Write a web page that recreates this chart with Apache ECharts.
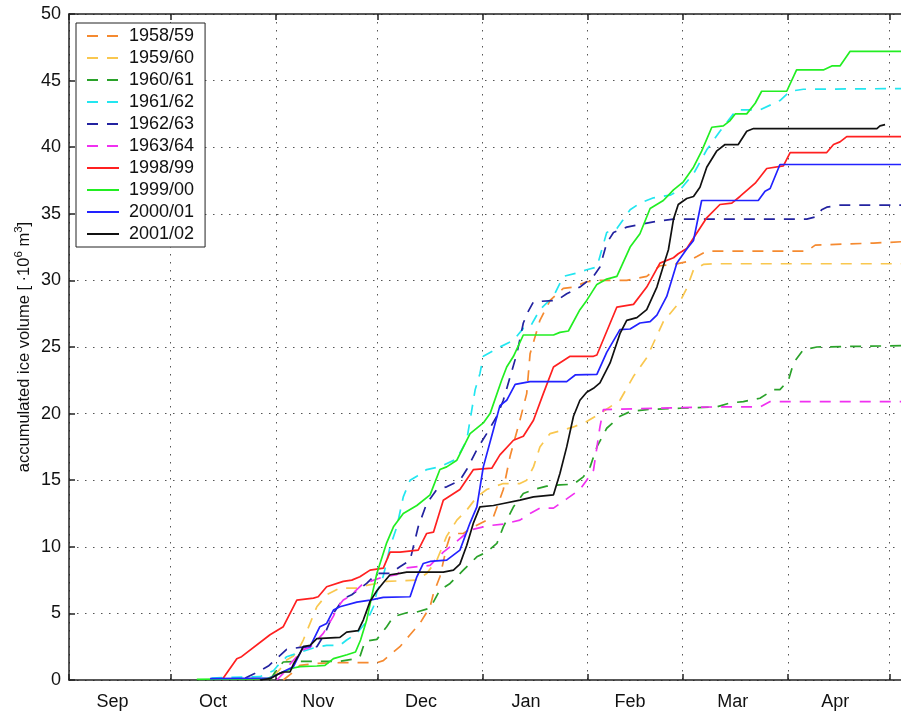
<!DOCTYPE html>
<html>
<head>
<meta charset="utf-8">
<script src="https://cdn.jsdelivr.net/npm/echarts@6/dist/echarts.min.js"></script>
<style>html,body{margin:0;padding:0;background:#fff}#c{width:901px;height:713px}</style>
</head>
<body>
<div id="c"></div>
<script>
// x = days since 1 September, y = accumulated ice volume [10^6 m^3]
const seasons = ['1958/59','1959/60','1960/61','1961/62','1962/63','1963/64','1998/99','1999/00','2000/01','2001/02'];
const monthLabels = ['Sep','Oct','Nov','Dec','Jan','Feb','Mar','Apr'];
const monthStartDays = [0,30,61,91,122,153,181,212,242];
const monthLabelDays = [12.8,42.5,73.5,103.8,134.8,165.5,195.8,226];
const yTicks = [0,5,10,15,20,25,30,35,40,45,50];

const v1958 = [[63.2,0],[66.2,0.6],[68.1,1.1],[73.1,1.25],[79.9,1.3],[90.8,1.3],[92.7,1.45],[94.7,1.9],[97.6,2.5],[100.6,3.4],[103.5,4.25],[106.5,5.5],[107.5,6.5],[109.4,7.75],[111.4,10.0],[112.4,10.8],[114.4,11.0],[116.3,11.0],[119.3,11.5],[125.2,12.25],[128.1,14.3],[130.1,16.8],[133.0,19.5],[135.0,21.5],[136.0,24.5],[138.9,27.0],[141.9,28.5],[145.8,29.4],[148.8,29.5],[152.7,29.9],[156.6,30.0],[164.5,30.0],[170.4,30.3],[174.3,31.1],[178.3,31.2],[182.2,31.4],[185.2,31.8],[188.1,32.2],[217.6,32.2],[220.1,32.65],[237.3,32.8],[245.4,32.9]];
const v1959 = [[60.3,0.3],[62.2,0.8],[64.2,1.5],[66.2,1.8],[68.1,2.5],[69.1,3.0],[71.1,4.25],[73.1,5.5],[76.0,6.4],[79.9,6.9],[84.9,6.9],[87.8,7.1],[90.8,7.25],[93.7,7.4],[102.6,7.5],[105.5,8.0],[108.5,9.0],[111.4,10.8],[114.4,12.0],[117.3,12.75],[120.3,13.75],[123.2,14.3],[125.2,14.5],[128.1,14.75],[133.0,14.75],[135.0,15.0],[137.0,16.0],[138.9,17.5],[141.9,18.5],[144.8,18.7],[148.8,19.0],[152.7,19.4],[156.6,20.0],[162.5,21.0],[166.5,22.8],[170.4,24.2],[175.3,26.9],[180.2,28.4],[182.2,29.4],[184.2,30.8],[187.1,31.2],[190.1,31.25],[245.4,31.25]];
const v1960 = [[59.3,0],[61.3,0.8],[63.2,1.35],[68.1,1.4],[79.9,1.4],[84.5,1.6],[85.8,1.75],[87.3,2.9],[90.8,3.05],[93.7,4.0],[95.7,4.75],[99.6,5.05],[102.6,5.1],[106.5,5.4],[109.4,6.75],[112.4,7.25],[116.3,8.25],[120.3,9.25],[123.2,9.6],[126.2,10.25],[128.1,11.5],[131.1,13.0],[134.0,14.0],[137.0,14.3],[140.9,14.55],[144.8,14.65],[148.8,14.7],[151.7,15.25],[153.7,16.0],[155.7,17.5],[158.6,18.9],[162.5,19.8],[165.5,20.15],[170.4,20.3],[180.2,20.4],[191.0,20.5],[195.0,20.8],[198.9,20.9],[203.8,21.15],[207.8,21.8],[209.7,21.8],[212.2,22.5],[213.7,23.8],[216.6,24.8],[220.6,25.0],[245.4,25.1]];
const v1961 = [[42.0,0.15],[56.3,0.25],[60.3,0.7],[61.3,1.0],[64.2,1.75],[67.2,2.0],[72.1,2.4],[76.0,2.6],[79.9,2.6],[81.9,3.0],[84.9,3.5],[87.8,4.4],[89.8,5.5],[90.8,6.6],[92.7,7.8],[94.7,10.0],[96.7,11.5],[98.6,13.75],[100.6,15.0],[102.6,15.3],[105.5,15.8],[109.4,16.0],[114.4,16.6],[117.3,18.0],[118.3,19.5],[119.8,21.8],[121.2,23.0],[122.2,24.3],[127.1,25.0],[131.1,25.5],[134.0,26.4],[136.0,26.5],[138.9,27.8],[142.9,28.8],[145.8,30.3],[149.8,30.55],[152.7,30.8],[155.7,31.0],[158.6,33.6],[161.6,33.9],[165.5,35.3],[168.4,35.8],[172.4,36.2],[177.3,36.4],[180.2,36.8],[184.2,38.0],[188.1,39.8],[192.0,41.2],[196.9,42.8],[203.8,42.8],[209.7,43.5],[212.7,44.2],[216.6,44.35],[245.4,44.4]];
const v1962 = [[52.0,0.15],[54.9,0.5],[58.8,1.05],[60.8,1.5],[64.2,2.3],[68.1,2.45],[73.1,2.5],[75.5,3.5],[78.0,5.0],[80.9,6.1],[83.4,6.4],[87.8,7.25],[90.8,8.0],[94.7,8.0],[97.6,8.5],[100.6,9.0],[103.0,11.5],[105.5,13.25],[108.5,14.3],[111.4,14.5],[115.3,15.0],[117.3,15.8],[120.3,17.3],[123.2,18.5],[126.2,19.8],[128.1,21.0],[132.1,24.5],[134.0,26.8],[135.5,27.7],[137.0,28.4],[143.9,28.5],[146.8,29.0],[150.7,29.5],[154.7,30.3],[156.6,31.0],[158.6,32.8],[160.6,33.6],[164.5,34.0],[168.4,34.2],[172.4,34.4],[178.3,34.6],[217.6,34.6],[220.6,34.8],[222.0,35.3],[223.5,35.5],[227.4,35.65],[245.4,35.65]];
const v1963 = [[61.3,0],[63.2,0.5],[65.2,1.2],[67.2,1.75],[68.1,2.2],[71.1,2.45],[75.0,3.5],[78.0,4.8],[79.0,5.4],[80.9,6.0],[82.9,6.3],[86.8,7.25],[88.8,7.4],[92.7,7.75],[96.7,7.9],[98.6,8.4],[106.5,8.6],[110.4,9.6],[112.4,10.0],[118.3,11.25],[122.2,11.5],[124.2,11.6],[128.1,11.7],[133.0,12.0],[136.0,12.5],[138.9,12.9],[142.9,12.9],[144.8,13.25],[146.8,13.6],[150.7,14.3],[152.7,15.0],[154.7,15.75],[156.6,19.0],[157.6,20.3],[166.5,20.35],[180.2,20.45],[191.0,20.5],[203.8,20.5],[206.8,20.9],[245.4,20.9]];
const v1998 = [[45.1,0],[49.5,1.6],[50.9,1.75],[59.3,3.4],[63.2,4.0],[67.2,6.0],[72.1,6.15],[73.5,6.25],[76.0,7.0],[80.9,7.4],[83.4,7.5],[85.8,7.75],[88.8,8.25],[92.7,8.4],[94.7,9.6],[97.6,9.6],[103.0,9.75],[105.5,11.0],[107.5,11.1],[110.4,13.5],[115.3,14.3],[119.3,15.8],[124.7,15.9],[127.1,16.9],[131.1,18.0],[134.0,18.3],[137.0,19.5],[139.9,21.5],[142.9,23.5],[147.8,24.3],[154.7,24.3],[155.7,24.4],[161.6,28.0],[166.5,28.2],[170.4,29.5],[174.3,31.3],[178.3,31.7],[179.7,32.0],[182.2,32.4],[188.1,34.7],[192.0,35.7],[195.5,35.8],[197.9,36.3],[202.4,37.3],[205.8,38.4],[210.7,38.6],[212.7,39.6],[223.5,39.6],[225.5,40.2],[227.4,40.4],[229.4,40.8],[245.4,40.8]];
const v1999 = [[37.7,0.05],[58.3,0.1],[61.3,0.4],[62.2,0.5],[66.2,0.9],[68.1,1.0],[73.1,1.05],[75.5,1.1],[78.0,1.6],[82.0,1.9],[84.5,2.1],[86.0,3.0],[87.8,4.5],[89.3,6.3],[90.8,8.0],[93.7,10.3],[95.7,11.5],[98.6,12.5],[102.6,13.1],[106.5,13.9],[109.4,15.8],[111.4,16.0],[114.4,16.5],[118.3,18.5],[122.2,19.3],[124.2,20.0],[127.6,22.5],[129.1,23.5],[131.1,24.3],[134.0,25.9],[142.9,25.9],[144.8,26.1],[147.3,26.2],[150.7,27.8],[152.7,28.5],[155.7,29.7],[158.6,30.1],[161.6,30.3],[165.5,32.5],[168.4,33.5],[171.4,35.4],[175.3,36.0],[178.3,36.8],[181.2,37.4],[184.2,38.5],[186.6,39.7],[189.6,41.5],[193.0,41.6],[195.0,42.0],[196.5,42.5],[199.9,42.5],[202.4,43.3],[204.3,44.2],[211.7,44.2],[214.6,45.8],[222.5,45.8],[225.0,46.1],[227.4,46.1],[230.4,47.2],[245.4,47.2]];
const v2000 = [[41.6,0.1],[59.3,0.15],[62.2,0.5],[66.2,1.0],[69.1,2.5],[71.1,2.5],[74.0,4.0],[76.0,4.25],[78.0,5.25],[79.9,5.5],[84.9,5.85],[88.8,6.0],[92.7,6.2],[100.6,6.25],[102.6,7.75],[104.5,8.75],[106.5,8.9],[111.4,9.0],[115.3,9.75],[118.3,11.8],[120.3,13.0],[122.2,16.0],[125.2,18.8],[127.1,20.6],[129.1,21.0],[131.6,22.2],[136.0,22.4],[146.8,22.4],[149.3,22.9],[155.7,22.95],[158.6,24.6],[162.5,26.3],[165.5,26.35],[168.4,26.8],[171.4,26.9],[173.4,27.4],[176.3,28.8],[179.3,31.3],[182.2,32.35],[184.2,33.0],[186.6,36.0],[203.3,36.0],[205.3,36.7],[206.8,36.9],[209.7,38.7],[245.4,38.7]];
const v2001 = [[56.3,0],[59.3,0.1],[62.2,0.5],[63.2,0.6],[65.2,0.6],[66.2,1.2],[68.1,2.0],[69.1,2.5],[71.1,2.6],[73.1,3.1],[79.9,3.2],[81.9,3.6],[85.3,3.7],[86.8,4.5],[88.8,5.9],[90.8,6.7],[92.7,7.3],[94.7,7.9],[97.6,8.0],[99.6,8.1],[110.4,8.1],[113.4,8.25],[115.3,8.7],[117.3,10.1],[119.3,11.8],[121.2,13.0],[125.2,13.1],[128.1,13.25],[133.0,13.5],[137.0,13.75],[142.9,13.9],[144.8,15.5],[146.8,17.5],[148.8,19.8],[150.7,21.0],[152.7,21.6],[154.7,21.9],[156.6,22.3],[159.6,23.8],[162.5,26.0],[164.5,27.0],[167.5,27.2],[170.4,27.8],[173.4,29.5],[175.8,31.5],[176.8,32.3],[178.3,34.6],[179.7,35.7],[182.2,36.15],[184.2,36.3],[186.1,37.0],[188.1,38.5],[191.0,39.7],[193.5,40.2],[197.4,40.2],[199.9,41.2],[201.9,41.4],[238.3,41.4],[239.2,41.6],[240.7,41.7]];

const seriesValues = [v1958,v1959,v1960,v1961,v1962,v1963,v1998,v1999,v2000,v2001];
const colors = ['#f58a30','#f9c74f','#2aa22a','#22e6f0','#2323a0','#f030f0','#ff2020','#22ee22','#2222ff','#111111'];
const dashed = [true,true,true,true,true,true,false,false,false,false];

const FONT = 'Liberation Sans, Arial, Helvetica, sans-serif';
const chart = echarts.init(document.getElementById('c'), null, {renderer:'canvas'});
const xMax = 245.4;
const dotted = {color:'#555', width:1, type:[1.5,6.5]};

const series = seasons.map((s,i)=>({
  name: s, type:'line', data: seriesValues[i], showSymbol:false, symbol:'none',
  xAxisIndex:0, yAxisIndex:0,
  lineStyle:{color:colors[i], width:1.7, type: dashed[i] ? [11,9] : 'solid'},
  itemStyle:{color:colors[i]}, animation:false, z: 3
}));

chart.setOption({
  animation:false,
  backgroundColor:'#fff',
  grid:{left:69, right:0, top:14, bottom:33, containLabel:false},
  legend:{
    data: seasons, orient:'vertical', left:76, top:23,
    itemWidth:32, itemHeight:14, itemGap:4,
    padding:[4,11,4,10],
    borderColor:'#222', borderWidth:1, backgroundColor:'#fff',
    itemStyle:{opacity:0, color:'rgba(0,0,0,0)', borderWidth:0},
    textStyle:{fontFamily:FONT, fontSize:18, color:'#111', padding:[0,0,0,5]},
    selectedMode:false, z:10
  },
  xAxis:[{
    type:'value', min:0, max:xMax, position:'bottom',
    axisLine:{show:true, lineStyle:{color:'#222', width:1.5}},
    axisTick:{show:true, inside:true, length:6, customValues: monthStartDays, lineStyle:{color:'#222', width:1.5}},
    axisLabel:{show:true, customValues: monthLabelDays, margin:13,
      formatter:(v)=>monthLabels[monthLabelDays.indexOf(v)] || '',
      fontFamily:FONT, fontSize:18, color:'#111'},
    splitLine:{show:true, lineStyle:dotted}
  },{
    type:'value', min:0, max:xMax, position:'top',
    axisLine:{show:true, lineStyle:{color:'#222', width:1.5}},
    axisTick:{show:true, inside:true, length:6, customValues: monthStartDays, lineStyle:{color:'#222', width:1.5}},
    axisLabel:{show:false}, splitLine:{show:false}
  }],
  yAxis:[{
    type:'value', min:0, max:50, interval:5,
    axisLine:{show:true, onZero:false, lineStyle:{color:'#222', width:1.5}},
    axisTick:{show:true, inside:true, length:6, lineStyle:{color:'#222', width:1.5}},
    axisLabel:{fontFamily:FONT, fontSize:18, color:'#111', margin:8},
    splitLine:{show:true, lineStyle:dotted},
    name:'{n|accumulated ice volume [ ·10}{s|6}{n| m}{s|3}{n|]}',
    nameLocation:'middle', nameRotate:90, nameGap:36, nameMoveOverlap:false,
    nameTextStyle:{rich:{
      n:{fontFamily:FONT, fontSize:16.5, color:'#111', lineHeight:20, verticalAlign:'bottom'},
      s:{fontFamily:FONT, fontSize:11.5, color:'#111', lineHeight:20, verticalAlign:'top'}
    }}
  }],
  series: series
});
</script>
</body>
</html>
